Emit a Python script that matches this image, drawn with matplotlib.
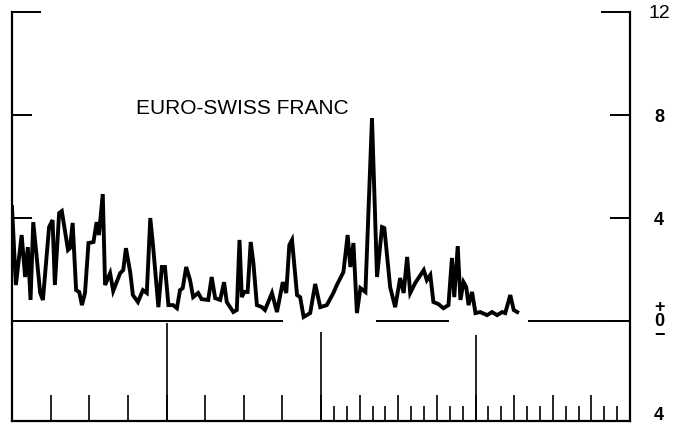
import matplotlib
matplotlib.use("Agg")
from matplotlib import pyplot as plt
from matplotlib.ticker import FixedLocator

plt.rcParams['font.family'] = ['Liberation Sans', 'DejaVu Sans']

# time position (years from start of panel) and value
t = [0.00, 0.10, 0.25, 0.34, 0.41, 0.48, 0.55, 0.73, 0.80, 0.96,
     1.05, 1.11, 1.22, 1.29, 1.45, 1.50, 1.57, 1.66, 1.74, 1.81,
     1.89, 1.98, 2.11, 2.19, 2.25, 2.35, 2.41, 2.54, 2.62, 2.80,
     2.88, 2.95, 3.06, 3.13, 3.26, 3.39, 3.49, 3.58, 3.65, 3.79,
     3.88, 3.96, 4.05, 4.17, 4.27, 4.35, 4.42, 4.51, 4.61, 4.69,
     4.82, 4.91, 5.08, 5.17, 5.26, 5.39, 5.49, 5.56, 5.73, 5.82,
     5.89, 5.95, 6.01, 6.10, 6.18, 6.25, 6.34, 6.47, 6.55, 6.73,
     6.86, 7.01, 7.10, 7.18, 7.25, 7.38, 7.46, 7.55, 7.72, 7.85,
     7.98, 8.15, 8.32, 8.41, 8.58, 8.69, 8.76, 8.84, 8.93, 9.02,
     9.15, 9.32, 9.45, 9.58, 9.64, 9.79, 9.92, 10.05, 10.14, 10.23,
     10.31, 10.44, 10.66, 10.74, 10.83, 10.91, 11.04, 11.17, 11.30, 11.39,
     11.45, 11.54, 11.61, 11.69, 11.76, 11.82, 11.91, 12.00, 12.12, 12.30,
     12.43, 12.56, 12.69, 12.77, 12.90, 12.99, 13.08]
vol = [4.43, 1.40, 3.34, 1.71, 2.87, 0.82, 3.84, 1.09, 0.82, 3.65,
       3.92, 1.40, 4.19, 4.27, 2.76, 2.83, 3.81, 1.20, 1.13, 0.62,
       1.09, 3.03, 3.07, 3.84, 3.34, 4.93, 1.40, 1.86, 1.17, 1.86,
       1.98, 2.83, 1.90, 1.01, 0.74, 1.20, 1.09, 4.00, 2.95, 0.54,
       2.10, 2.10, 0.62, 0.62, 0.50, 1.20, 1.28, 2.10, 1.59, 0.93,
       1.09, 0.85, 0.82, 1.71, 0.89, 0.82, 1.51, 0.74, 0.35, 0.43,
       3.15, 0.93, 1.13, 1.13, 3.07, 2.25, 0.62, 0.54, 0.43, 1.09,
       0.35, 1.51, 1.09, 2.95, 3.15, 1.01, 0.93, 0.16, 0.31, 1.44,
       0.54, 0.62, 1.09, 1.40, 1.90, 3.34, 2.10, 3.03, 0.31, 1.28,
       1.13, 7.88, 1.71, 3.65, 3.61, 1.32, 0.54, 1.67, 1.09, 2.49,
       1.09, 1.48, 1.98, 1.59, 1.79, 0.74, 0.66, 0.50, 0.62, 2.45,
       0.93, 2.91, 0.82, 1.51, 1.32, 0.62, 1.13, 0.31, 0.35, 0.23,
       0.35, 0.23, 0.35, 0.31, 1.01, 0.43, 0.35]

y_ticks = [12, 8, 4, 0, -3.6]
y_labels = ['12', '8', '4', '+\n0\n\u2212', '4']
base_start = [0, 9.43, 13.37]
base_end = [7.02, 11.32, 16]
divider_x = [4, 8, 12]
divider_top = [-0.08, -0.43, -0.54]
major_x = list(range(1, 16))
minor_x = [8 + k / 3 for k in range(1, 24) if k % 3 != 0]

fig = plt.figure(figsize=(6.87, 4.23), dpi=100)
ax = fig.add_axes([12 / 687, 2 / 423, 618 / 687, 409 / 423])
ax.plot(t, vol, color='black', lw=2.8, solid_joinstyle='miter')
ax.hlines([0] * len(base_start), base_start, base_end, color='black', lw=1.4)
ax.vlines(divider_x, [-3.88] * len(divider_x), divider_top, color='black', lw=1.2)

ax.set_xlim(0, 16)
ax.set_ylim(-3.88, 12)
ax.spines['top'].set_visible(False)
for s in ['left', 'right', 'bottom']:
    ax.spines[s].set_linewidth(1.6)

ax.set_yticks(y_ticks, y_labels)
ax.tick_params(axis='y', direction='in', left=True, right=True,
               labelleft=False, labelright=True, length=14.5, width=1.4,
               pad=21, labelsize=13)
for lab in ax.get_yticklabels():
    lab.set_horizontalalignment('center')
    lab.set_fontweight('bold')
    lab.set_linespacing(0.75)
ax.get_yticklabels()[0].set_fontweight('normal')
ax.get_yticklabels()[0].set_fontsize(14)
ticks = ax.yaxis.get_major_ticks()
ticks[0].tick1line.set_markersize(21)
ticks[0].tick2line.set_markersize(21)
ticks[-1].tick1line.set_visible(False)
ticks[-1].tick2line.set_visible(False)

ax.xaxis.set_major_locator(FixedLocator(major_x))
ax.xaxis.set_minor_locator(FixedLocator(minor_x))
ax.tick_params(axis='x', which='major', direction='in', length=19, width=1.2,
               labelbottom=False)
ax.tick_params(axis='x', which='minor', direction='in', length=11, width=1.2)

ax.text(5.96, 8.27, 'EURO-SWISS FRANC', fontsize=15, ha='center', va='center')

fig.savefig('out.png', dpi=100)
